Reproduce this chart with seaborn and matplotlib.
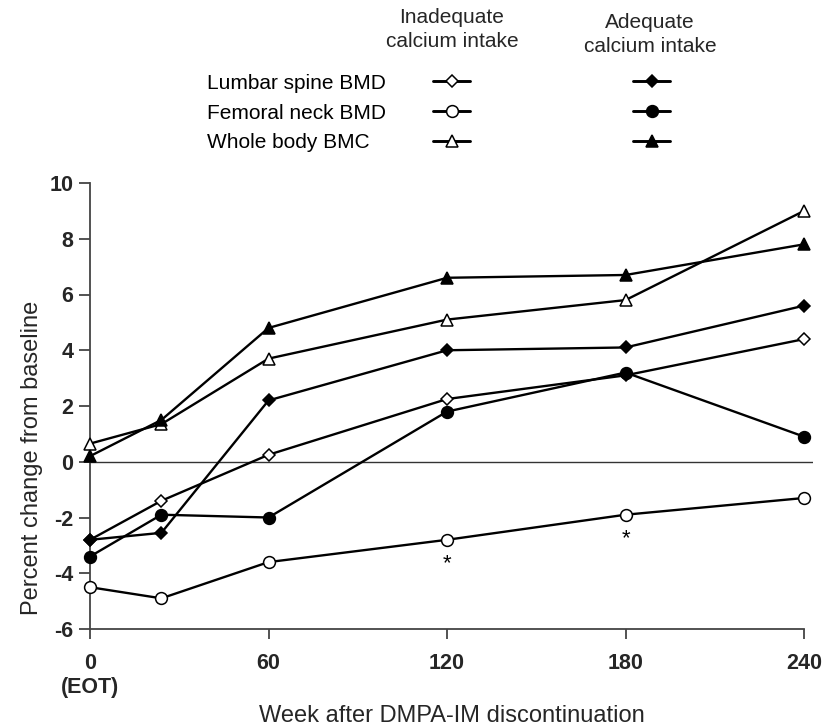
import matplotlib
matplotlib.use("Agg")
import matplotlib.pyplot as plt
import seaborn as sns
from matplotlib.lines import Line2D

# ---------------- data ----------------
weeks = [0, 24, 60, 120, 180, 240]
xtick_vals = [0, 60, 120, 180, 240]
xtick_labels = ["0\n(EOT)", "60", "120", "180", "240"]
ytick_vals = [-6, -4, -2, 0, 2, 4, 6, 8, 10]

lumbar_inadequate = [-2.8, -1.4, 0.25, 2.25, 3.1, 4.4]
lumbar_adequate = [-2.8, -2.55, 2.2, 4.0, 4.1, 5.6]
femoral_inadequate = [-4.5, -4.9, -3.6, -2.8, -1.9, -1.3]
femoral_adequate = [-3.4, -1.9, -2.0, 1.8, 3.2, 0.9]
wholebody_inadequate = [0.65, 1.35, 3.7, 5.1, 5.8, 9.0]
wholebody_adequate = [0.2, 1.5, 4.8, 6.6, 6.7, 7.8]

measure_labels = ["Lumbar spine BMD", "Femoral neck BMD", "Whole body BMC"]
group_labels = ["Inadequate\ncalcium intake", "Adequate\ncalcium intake"]
significant_weeks = [120, 180]  # asterisks under inadequate femoral neck BMD
xlabel = "Week after DMPA-IM discontinuation"
ylabel = "Percent change from baseline"

# ---------------- style ----------------
sns.set_theme(style="white")
plt.rcParams["font.family"] = ["Liberation Sans", "DejaVu Sans"]

W, H = 836, 728
fig = plt.figure(figsize=(W / 100, H / 100), dpi=100)
ax = fig.add_axes([90 / W, 1 - 629 / H, 723 / W, 446 / H])

marker_specs = [("D", 6.2), ("o", 8.5), ("^", 9.0)]
series = [
    (lumbar_inadequate, 0, "white"),
    (lumbar_adequate, 0, "black"),
    (femoral_inadequate, 1, "white"),
    (femoral_adequate, 1, "black"),
    (wholebody_inadequate, 2, "white"),
    (wholebody_adequate, 2, "black"),
]
LW = 1.7
MEW = 1.1

ax.axhline(0, color="#333333", lw=1.0, zorder=1)

for k, (vals, mi, face) in enumerate(series):
    m, ms = marker_specs[mi]
    sns.lineplot(x=weeks, y=vals, ax=ax, color="black", linewidth=LW,
                 marker=m, markersize=ms, markerfacecolor=face,
                 markeredgecolor="black", markeredgewidth=MEW,
                 clip_on=False, zorder=3 + k)

# asterisks
for w in significant_weeks:
    i = weeks.index(w)
    ax.annotate("*", xy=(w, femoral_inadequate[i]), xytext=(0, -17),
                textcoords="offset points", ha="center", va="center",
                fontsize=16, color="black")

# axes
ax.set_xlim(0, 243)
ax.set_ylim(-6, 10)
for s in ["top", "right"]:
    ax.spines[s].set_visible(False)
for s in ["left", "bottom"]:
    ax.spines[s].set_color("#444444")
    ax.spines[s].set_linewidth(1.3)
ax.spines["bottom"].set_bounds(0, 240)
ax.spines["left"].set_bounds(-6, 10)

ax.set_xticks(xtick_vals)
ax.set_xticklabels(xtick_labels, fontsize=15.5, fontweight="bold")
ax.set_yticks(ytick_vals)
ax.set_yticklabels([str(v) for v in ytick_vals], fontsize=15.5, fontweight="bold")
ax.tick_params(axis="x", direction="out", length=7, width=1.3, color="#444444", pad=10, bottom=True)
ax.tick_params(axis="y", direction="out", length=8, width=1.3, color="#444444", pad=4, left=True)

ax.set_xlabel(xlabel, fontsize=17)
ax.set_ylabel(ylabel, fontsize=17)
ax.xaxis.set_label_coords(0.5, (629 - 705) / 446)
ax.yaxis.set_label_coords((43 - 90) / 723, (629 - 458) / 446)

# legend (marker samples), row labels drawn as left-aligned figure texts
def handle(mi, face):
    m, ms = marker_specs[mi]
    return Line2D([], [], color="black", lw=LW + 0.4, marker=m, markersize=ms,
                  markerfacecolor=face, markeredgecolor="black", markeredgewidth=MEW)

handles = [handle(i, "white") for i in range(3)] + [handle(i, "black") for i in range(3)]
labels = [""] * 6
fs_leg = 15
px = fs_leg * 100 / 72
leg = ax.legend(handles, labels, ncol=2, markerfirst=False, frameon=False,
                fontsize=fs_leg, handlelength=37 / px, handletextpad=48 / px,
                columnspacing=115 / px, labelspacing=0.52, borderpad=0,
                borderaxespad=0, loc="center right",
                bbox_to_anchor=(670 / W, 1 - 113 / H),
                bbox_transform=fig.transFigure)
texts = leg.get_texts()[:3]

fig.canvas.draw()
label_left = 207
for t, lab in zip(texts, measure_labels):
    bx, by = t.get_transform().transform(t.get_position())
    fig.text(label_left / W, by / fig.bbox.height, lab, ha="left",
             va="baseline", fontsize=fs_leg, color="black")

# column headers
fig.text(452 / W, 1 - 8 / H, group_labels[0], ha="center", va="top",
         fontsize=15, linespacing=1.35, multialignment="center")
fig.text(650 / W, 1 - 13 / H, group_labels[1], ha="center", va="top",
         fontsize=15, linespacing=1.35, multialignment="center")

fig.savefig("out.png", dpi=100)
